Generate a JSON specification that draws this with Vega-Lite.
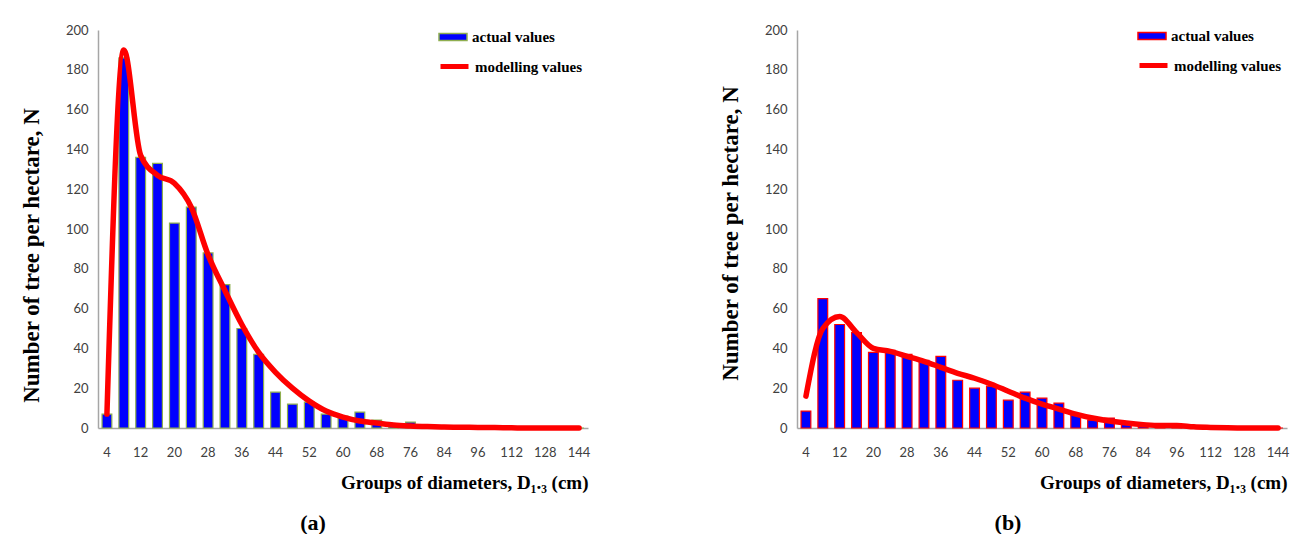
{
  "$schema": "https://vega.github.io/schema/vega-lite/v6.json",
  "background": "white",
  "padding": {"left": 20, "top": 21, "right": 5, "bottom": 0},
  "bounds": "flush",
  "spacing": 209,
  "config": {
    "view": {"stroke": null},
    "axis": {"grid": false, "ticks": false, "domainColor": "#a6a6a6", "domainWidth": 1.5, "labelFont": "Lato", "labelFontSize": 13, "labelColor": "#404040", "labelOverlap": false, "titleFont": "Liberation Serif", "titleFontWeight": "bold", "titleColor": "#000000"},
    "axisY": {"labelOverlap": false},
    "axisQuantitative": {"labelOverlap": false},
    "legend": {"orient": "none", "title": null, "padding": 0, "labelFont": "Liberation Serif", "labelFontSize": 15, "labelFontWeight": "bold", "labelColor": "#000000", "labelOffset": 4, "symbolSize": 784},
    "title": {"font": "Liberation Serif", "fontSize": 22, "fontWeight": "bold", "color": "#000000"}
  },
  "resolve": {"scale": {"fill": "independent", "stroke": "independent", "x": "independent", "y": "independent"}, "legend": {"fill": "independent", "stroke": "independent"}},
  "hconcat": [
    {
      "width": 490,
      "height": 398,
      "title": {"text": "(a)", "orient": "bottom", "anchor": "middle", "dx": -30, "offset": 21},
      "data": {"values": [
        {"d": 4, "actual": 7, "model": 7},
        {"d": 8, "actual": 186, "model": 190},
        {"d": 12, "actual": 136, "model": 137},
        {"d": 16, "actual": 133, "model": 127},
        {"d": 20, "actual": 103, "model": 123},
        {"d": 24, "actual": 111, "model": 111},
        {"d": 28, "actual": 88, "model": 87},
        {"d": 32, "actual": 72, "model": 69},
        {"d": 36, "actual": 50, "model": 52},
        {"d": 40, "actual": 37, "model": 38},
        {"d": 44, "actual": 18, "model": 28},
        {"d": 48, "actual": 12, "model": 20},
        {"d": 52, "actual": 13, "model": 13.5},
        {"d": 56, "actual": 7, "model": 8.5},
        {"d": 60, "actual": 6, "model": 5.5},
        {"d": 64, "actual": 8, "model": 3.5},
        {"d": 68, "actual": 4, "model": 2.5},
        {"d": 72, "actual": 1, "model": 1.5},
        {"d": 76, "actual": 3, "model": 1},
        {"d": 80, "actual": 0.5, "model": 0.7},
        {"d": 84, "actual": 0.3, "model": 0.5},
        {"d": 88, "actual": 0.2, "model": 0.4},
        {"d": 96, "actual": 0.2, "model": 0.3},
        {"d": 104, "actual": 0, "model": 0.2},
        {"d": 112, "actual": 0, "model": 0.1},
        {"d": 120, "actual": 0, "model": 0},
        {"d": 128, "actual": 0, "model": 0},
        {"d": 136, "actual": 0, "model": 0},
        {"d": 144, "actual": 0, "model": 0}
      ]},
      "encoding": {
        "x": {"field": "d", "type": "ordinal", "scale": {"paddingInner": 0.42, "paddingOuter": 0.24},
          "axis": {"title": "Groups  of diameters, D₁.₃ (cm)", "values": [4,12,20,28,36,44,52,60,68,76,84,96,112,128,144], "labelAngle": 0, "labelPadding": 18, "titleAnchor": "end", "titleFontSize": 19, "titlePadding": 14}}
      },
      "layer": [
        {
          "mark": {"type": "bar", "stroke": "#8fae4f", "strokeWidth": 1.2},
          "encoding": {
            "y": {"field": "actual", "type": "quantitative", "scale": {"domain": [0, 200]},
              "axis": {"title": "Number of tree per hectare,  N", "values": [0,20,40,60,80,100,120,140,160,180,200], "labelOverlap": false, "labelPadding": 10, "titleFontSize": 23, "titleX": -67, "titleY": 225, "titleAngle": -90, "titleAlign": "center", "titleBaseline": "middle"}},
            "fill": {"datum": "actual values", "type": "nominal", "scale": {"range": ["#0000ff"]},
              "legend": {"legendX": 340, "legendY": -8, "symbolType": "M-1,-0.25H1V0.25H-1Z", "symbolStrokeColor": "#8fae4f", "symbolStrokeWidth": 1.5, "symbolFillColor": "#0000ff"}}
          }
        },
        {
          "mark": {"type": "line", "interpolate": "monotone", "strokeWidth": 5.5, "strokeCap": "round", "strokeJoin": "round"},
          "encoding": {
            "y": {"field": "model", "type": "quantitative",
              "axis": {"title": "Number of tree per hectare,  N", "values": [0,20,40,60,80,100,120,140,160,180,200], "labelOverlap": false, "labelPadding": 10, "titleFontSize": 23, "titleX": -67, "titleY": 225, "titleAngle": -90, "titleAlign": "center", "titleBaseline": "middle"}},
            "stroke": {"datum": "modelling values", "type": "nominal", "scale": {"range": ["#ff0000"]},
              "legend": {"legendX": 340, "legendY": 20, "symbolType": "stroke", "symbolStrokeWidth": 5, "symbolStrokeColor": "#ff0000"}}
          }
        }
      ]
    },
    {
      "width": 490,
      "height": 398,
      "title": {"text": "(b)", "orient": "bottom", "anchor": "middle", "dx": -34, "offset": 21},
      "data": {"values": [
        {"d": 4, "actual": 8.5, "model": 16},
        {"d": 8, "actual": 65, "model": 50},
        {"d": 12, "actual": 52, "model": 56},
        {"d": 16, "actual": 48, "model": 48},
        {"d": 20, "actual": 38, "model": 40},
        {"d": 24, "actual": 39, "model": 38.5},
        {"d": 28, "actual": 37, "model": 36},
        {"d": 32, "actual": 34, "model": 33.5},
        {"d": 36, "actual": 36, "model": 30.5},
        {"d": 40, "actual": 24, "model": 27.5},
        {"d": 44, "actual": 20, "model": 25},
        {"d": 48, "actual": 21, "model": 22},
        {"d": 52, "actual": 14, "model": 18.5},
        {"d": 56, "actual": 18, "model": 15},
        {"d": 60, "actual": 15, "model": 12},
        {"d": 64, "actual": 12.5, "model": 9.5},
        {"d": 68, "actual": 7, "model": 7},
        {"d": 72, "actual": 4, "model": 5},
        {"d": 76, "actual": 5, "model": 3.5},
        {"d": 80, "actual": 2, "model": 2.5},
        {"d": 84, "actual": 1.5, "model": 1.7},
        {"d": 88, "actual": 1, "model": 1.2},
        {"d": 96, "actual": 1, "model": 1.3},
        {"d": 104, "actual": 0.5, "model": 0.6},
        {"d": 112, "actual": 0, "model": 0.3},
        {"d": 120, "actual": 0, "model": 0.1},
        {"d": 128, "actual": 0, "model": 0},
        {"d": 136, "actual": 0, "model": 0},
        {"d": 144, "actual": 0, "model": 0}
      ]},
      "encoding": {
        "x": {"field": "d", "type": "ordinal", "scale": {"paddingInner": 0.42, "paddingOuter": 0.24},
          "axis": {"title": "Groups  of diameters, D₁.₃ (cm)", "values": [4,12,20,28,36,44,52,60,68,76,84,96,112,128,144], "labelAngle": 0, "labelPadding": 18, "titleAnchor": "end", "titleFontSize": 19, "titlePadding": 14}}
      },
      "layer": [
        {
          "mark": {"type": "bar", "stroke": "#ff0000", "strokeWidth": 1.2},
          "encoding": {
            "y": {"field": "actual", "type": "quantitative", "scale": {"domain": [0, 200]},
              "axis": {"title": "Number of tree per hectare,  N", "values": [0,20,40,60,80,100,120,140,160,180,200], "labelOverlap": false, "labelPadding": 10, "titleFontSize": 23, "titleX": -67, "titleY": 203, "titleAngle": -90, "titleAlign": "center", "titleBaseline": "middle"}},
            "fill": {"datum": "actual values", "type": "nominal", "scale": {"range": ["#0000ff"]},
              "legend": {"legendX": 340, "legendY": -9, "symbolType": "M-1,-0.25H1V0.25H-1Z", "symbolStrokeColor": "#ff0000", "symbolStrokeWidth": 1.5, "symbolFillColor": "#0000ff"}}
          }
        },
        {
          "mark": {"type": "line", "interpolate": "monotone", "strokeWidth": 5.5, "strokeCap": "round", "strokeJoin": "round"},
          "encoding": {
            "y": {"field": "model", "type": "quantitative",
              "axis": {"title": "Number of tree per hectare,  N", "values": [0,20,40,60,80,100,120,140,160,180,200], "labelOverlap": false, "labelPadding": 10, "titleFontSize": 23, "titleX": -67, "titleY": 203, "titleAngle": -90, "titleAlign": "center", "titleBaseline": "middle"}},
            "stroke": {"datum": "modelling values", "type": "nominal", "scale": {"range": ["#ff0000"]},
              "legend": {"legendX": 340, "legendY": 19, "symbolType": "stroke", "symbolStrokeWidth": 5, "symbolStrokeColor": "#ff0000"}}
          }
        }
      ]
    }
  ]
}
